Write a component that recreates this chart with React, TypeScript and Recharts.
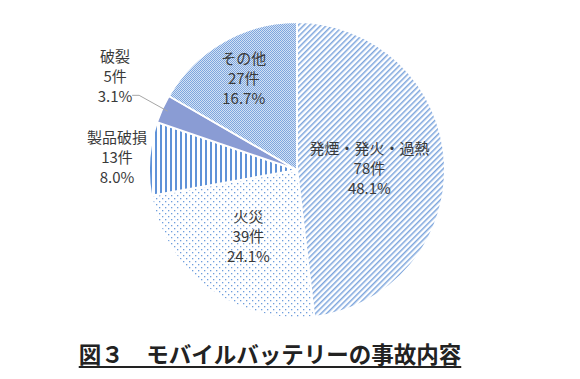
import { PieChart, Pie, Cell } from 'recharts'

const CATEGORIES = ['発煙・発火・過熱', '火災', '製品破損', '破裂', 'その他']
const COUNTS = [78, 39, 13, 5, 27]
const PERCENTS = ['48.1%', '24.1%', '8.0%', '3.1%', '16.7%']
const FILLS = ['url(#patDiag)', 'url(#patDots)', 'url(#patVert)', '#8a9cd4', 'url(#patCheck)']

// label placement per slice, as a factor of the outer radius plus a small nudge
const LABEL_R = [0.49, 0.55, 1.22, 1.35, 0.72]
const LABEL_DY = [2, 0, 0, -12, 0]

const data = CATEGORIES.map((name, i) => ({ name, value: COUNTS[i], pct: PERCENTS[i] }))

const RADIAN = Math.PI / 180
const LABEL_FONT = "'Noto Sans CJK JP', sans-serif"

const renderLabel = (props: any) => {
  const { cx, cy, midAngle, outerRadius, index } = props
  const r = outerRadius * LABEL_R[index]
  const x = cx + r * Math.cos(-midAngle * RADIAN)
  const y = cy + r * Math.sin(-midAngle * RADIAN) + LABEL_DY[index]
  const d = data[index]
  const lines = [d.name, `${d.value}件`, d.pct]
  let leader = null
  if (index === 3) {
    const ex = cx + outerRadius * 0.96 * Math.cos(-midAngle * RADIAN)
    const ey = cy + outerRadius * 0.96 * Math.sin(-midAngle * RADIAN)
    leader = (
      <polyline
        points={`${x + 17},${y + 20} ${x + 24},${y + 20} ${ex},${ey}`}
        fill="none"
        stroke="#a6a6a6"
        strokeWidth={1}
      />
    )
  }
  return (
    <g>
      {leader}
      {lines.map((t, k) => (
        <text
          key={k}
          x={x}
          y={y + (k - 1) * 20}
          textAnchor="middle"
          dominantBaseline="central"
          fontSize={15}
          fill="#3a3a3a"
          fontFamily={LABEL_FONT}
        >
          {t}
        </text>
      ))}
    </g>
  )
}

export default function App() {
  return (
    <div style={{ width: 580, height: 379, position: 'relative', margin: -8, background: '#fff' }}>
      <PieChart width={580} height={340} margin={{ top: 0, right: 0, bottom: 0, left: 0 }}>
        <defs>
          <pattern id="patDiag" width="4" height="4" patternUnits="userSpaceOnUse" patternTransform="rotate(45)">
            <rect width="4" height="4" fill="#fff" />
            <rect x="0" y="0" width="1.5" height="4" fill="#7ea6dd" />
          </pattern>
          <pattern id="patDots" width="6" height="6" patternUnits="userSpaceOnUse">
            <rect width="6" height="6" fill="#fff" />
            <rect x="0" y="0" width="1.3" height="1.3" fill="#6f9edd" />
            <rect x="3" y="3" width="1.3" height="1.3" fill="#6f9edd" />
          </pattern>
          <pattern id="patVert" width="5" height="5" patternUnits="userSpaceOnUse">
            <rect width="5" height="5" fill="#fff" />
            <rect x="0" y="0" width="2" height="5" fill="#5f92d8" />
          </pattern>
          <pattern id="patCheck" width="2" height="2" patternUnits="userSpaceOnUse">
            <rect width="2" height="2" fill="#d3e1f4" />
            <rect x="0" y="0" width="1" height="1" fill="#7ea6de" />
            <rect x="1" y="1" width="1" height="1" fill="#7ea6de" />
          </pattern>
        </defs>
        <Pie
          data={data}
          dataKey="value"
          cx={297}
          cy={170}
          outerRadius={148}
          startAngle={90}
          endAngle={-270}
          stroke="#fff"
          strokeWidth={2}
          label={renderLabel}
          labelLine={false}
          isAnimationActive={false}
        >
          {data.map((d, i) => (
            <Cell key={d.name} fill={FILLS[i]} />
          ))}
        </Pie>
      </PieChart>
      <div
        style={{
          position: 'absolute',
          left: 0,
          top: 339,
          width: 540,
          textAlign: 'center',
          fontFamily: "'Noto Sans CJK JP', sans-serif",
          fontWeight: 700,
          fontSize: 22.5,
          color: '#222',
          textDecoration: 'underline',
          textUnderlineOffset: 3,
          lineHeight: '28px',
          whiteSpace: 'pre',
        }}
      >
        {'図３　モバイルバッテリーの事故内容'}
      </div>
    </div>
  )
}
